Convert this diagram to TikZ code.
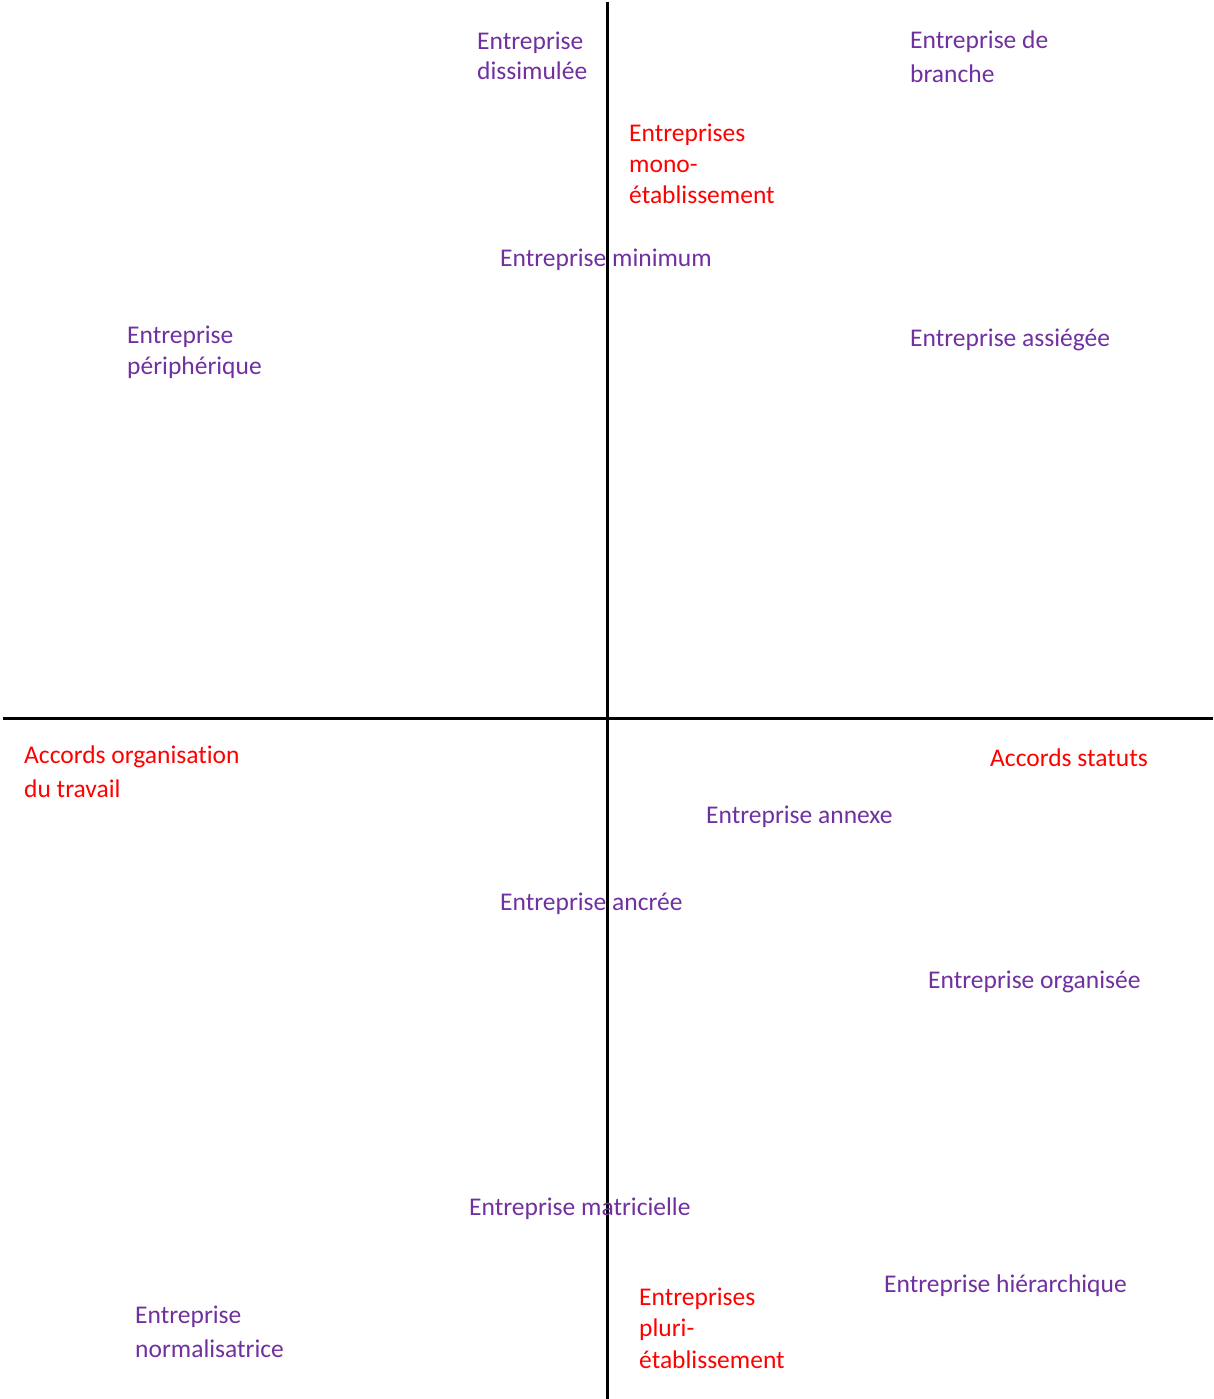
\documentclass[tikz,border=0pt]{standalone}
\usepackage{fontspec}
\setmainfont{Carlito}[Ligatures=NoCommon]
\definecolor{violetlab}{HTML}{7030A0}
\definecolor{rougelab}{HTML}{FF0000}
\tikzset{
  axe/.style={line width=3pt, black},
  lab/.style={anchor=base west, inner sep=0pt, align=left, font=\fontsize{25.5}{30.5}\selectfont},
  typo/.style={lab, text=violetlab},
  crit/.style={lab, text=rougelab},
}
\begin{document}
\begin{tikzpicture}[x=1pt,y=-1pt]
\useasboundingbox (0,0) rectangle (1213,1399);
\coordinate (vtop) at (607,2);
\coordinate (vbot) at (607,1399);
\coordinate (hl) at (3,718);
\coordinate (hr) at (1213,718);
\draw[axe] (vtop) -- (vbot);
\draw[axe] (hl) -- (hr);
\node[typo] (dissim) at (477,80) {Entreprise\\dissimulée};
\node[typo, font=\fontsize{25.5}{34}\selectfont] (branche) at (910,83) {Entreprise de\\branche};
\node[crit, font=\fontsize{25.5}{31}\selectfont] (mono) at (629,204) {Entreprises\\mono-\\établissement};
\node[typo] (minimum) at (500,266) {Entreprise minimum};
\node[typo, font=\fontsize{25.5}{31}\selectfont] (periph) at (127,374) {Entreprise\\périphérique};
\node[typo] (assiegee) at (910,346) {Entreprise assiégée};
\node[crit, font=\fontsize{25.5}{34}\selectfont] (orgtrav) at (24,797) {Accords organisation\\du travail};
\node[crit] (statuts) at (990,766) {Accords statuts};
\node[typo] (annexe) at (706,823) {Entreprise annexe};
\node[typo] (ancree) at (500,910) {Entreprise ancrée};
\node[typo] (organisee) at (928,988) {Entreprise organisée};
\node[typo] (matric) at (469,1215) {Entreprise matricielle};
\node[typo] (hierar) at (884,1292) {Entreprise hiérarchique};
\node[crit, font=\fontsize{25.5}{31.5}\selectfont] (pluri) at (639,1368) {Entreprises\\pluri-\\établissement};
\node[typo, font=\fontsize{25.5}{34}\selectfont] (normal) at (135,1357) {Entreprise\\normalisatrice};
\end{tikzpicture}
\end{document}
